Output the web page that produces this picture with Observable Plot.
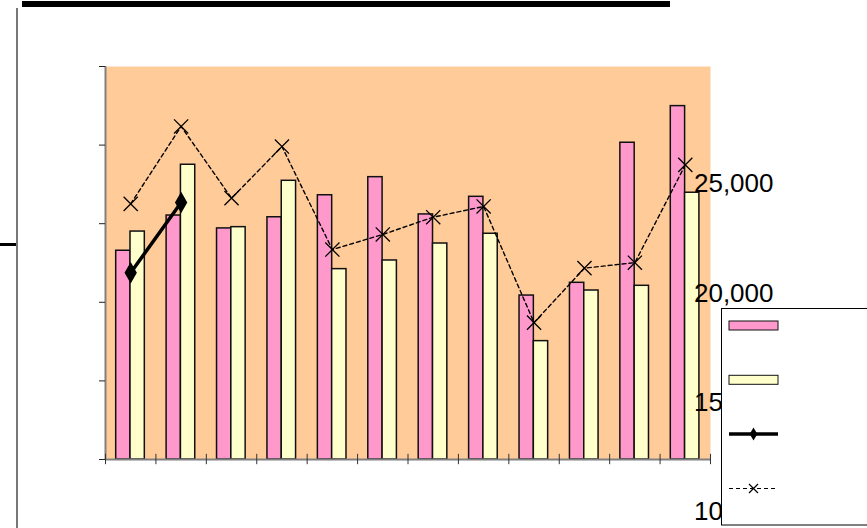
<!DOCTYPE html>
<html><head><meta charset="utf-8">
<script src="https://cdn.jsdelivr.net/npm/d3@7"></script>
<script src="https://cdn.jsdelivr.net/npm/@observablehq/plot@0.6"></script>
<style>
body{margin:0;background:#fff;}
#wrap{position:relative;width:867px;height:528px;overflow:hidden;font-family:"Liberation Sans",Arial,sans-serif;}
.deco{position:absolute;}
</style></head><body>
<div id="wrap">
  <div class="deco" style="left:22px;top:1px;width:648px;height:6px;background:#000"></div>
  <div class="deco" style="left:16px;top:8px;width:1.5px;height:520px;background:#777"></div>
  <div class="deco" style="left:0;top:242.5px;width:16px;height:3.5px;background:#000"></div>
</div>
<script>
// ---- data ----
const categories = ["1","2","3","4","5","6","7","8","9","10","11","12"];
const seriesPink   = [13280, 15520, 14700, 15410, 16810, 17960, 15590, 16710, 10430, 11240, 20150, 22480];
const seriesYellow = [14500, 18750, 14780, 17730, 12110, 12660, 13740, 14360, 7530, 10750, 11050, 16970];
// secondary-axis series
const seriesSolid  = [20940, 24150, null, null, null, null, null, null, null, null, null, null];
const seriesDashed = [24090, 27630, 24350, 26710, 22000, 22690, 23480, 23970, 18660, 21150, 21400, 25870];
const leftTicks  = [0, 5000, 10000, 15000, 20000, 25000];
const rightTicks = [10000, 15000, 20000, 25000];
const primaryDomain = [0, 25000];
const secondaryDomain = [12400, 30370];

// ---- chart ----
const W = 867, H = 528;
const mL = 105, mR = 157, mT = 66, mB = 69;
const bw = (W - mL - mR) / categories.length;
const sec = d3.scaleLinear().domain(secondaryDomain).range(primaryDomain);
const rows = categories.map((c, i) => ({c, a: seriesPink[i], b: seriesYellow[i], k: seriesSolid[i], d: seriesDashed[i]}));
const ys = v => v == null ? NaN : sec(v);

const chart = Plot.plot({
  width: W, height: H,
  marginLeft: mL, marginRight: mR, marginTop: mT, marginBottom: mB,
  x: {type: "band", domain: categories, padding: 0, round: false, axis: null},
  y: {domain: primaryDomain, axis: null, label: null},
  style: {background: "transparent", overflow: "visible", fontFamily: "'Liberation Sans', Arial, sans-serif"},
  marks: [
    Plot.frame({fill: "#FFCC99", stroke: null}),
    Plot.frame({stroke: "#FFE8D2", strokeDasharray: "2,4"}),
    Plot.barY(rows, {x: "c", y: "a", fill: "#FF99CC", stroke: "#111", strokeWidth: 1.5, insetLeft: 10.7, insetRight: 25.4}),
    Plot.barY(rows, {x: "c", y: "b", fill: "#FFFFCC", stroke: "#111", strokeWidth: 1.5, insetLeft: 25, insetRight: 11.1}),
    Plot.ruleY([0], {stroke: "#808080", strokeWidth: 2}),
    Plot.ruleX([categories[0]], {x: d => d, dx: -bw / 2, y1: primaryDomain[0], y2: primaryDomain[1], stroke: "#808080", strokeWidth: 2}),
    Plot.axisY(leftTicks, {tickSize: 6, tickFormat: () => "", stroke: "#222", label: null}),
    Plot.ruleX(categories, {x: d => d, dx: -bw / 2, y1: -330, y2: 330, stroke: "#333"}),
    Plot.ruleX([categories[categories.length - 1]], {x: d => d, dx: bw / 2, y1: -330, y2: 330, stroke: "#333"}),
    Plot.line(rows, {x: "c", y: d => ys(d.d), stroke: "#000", strokeWidth: 1.4, strokeDasharray: "4,3"}),
    Plot.dot(rows, {x: "c", y: d => ys(d.d), symbol: "times", r: 6.5, stroke: "#000", strokeWidth: 1.3}),
    Plot.line(rows, {x: "c", y: d => ys(d.k), stroke: "#000", strokeWidth: 3.5}),
    Plot.dot(rows.filter(d => d.k != null), {x: "c", y: d => ys(d.k), symbol: "diamond", r: 6.5, fill: "#000", stroke: null}),
    Plot.text(rightTicks, {y: d => sec(d), text: d => d3.format(",")(d), frameAnchor: "right", textAnchor: "end", dx: 63, fontSize: 26, fill: "#000"})
  ]
});
chart.style.position = "absolute";
chart.style.left = "0px";
chart.style.top = "0px";
document.getElementById("wrap").appendChild(chart);

// ---- legend (drawn over the right axis labels, as in the reference) ----
const svg = d3.select(chart);
const lg = svg.append("g");
lg.append("rect").attr("x", 721.5).attr("y", 308.5).attr("width", 160).attr("height", 216.5)
  .attr("fill", "#fff").attr("stroke", "#000").attr("stroke-width", 1);
const sx0 = 729, sx1 = 778, sxm = (sx0 + sx1) / 2;
lg.append("rect").attr("x", sx0).attr("y", 321).attr("width", sx1 - sx0).attr("height", 9)
  .attr("fill", "#FF99CC").attr("stroke", "#111").attr("stroke-width", 1);
lg.append("rect").attr("x", sx0).attr("y", 375.3).attr("width", sx1 - sx0).attr("height", 9)
  .attr("fill", "#FFFFCC").attr("stroke", "#111").attr("stroke-width", 1);
lg.append("line").attr("x1", sx0).attr("x2", sx1).attr("y1", 434).attr("y2", 434)
  .attr("stroke", "#000").attr("stroke-width", 3.5);
lg.append("path").attr("d", d3.symbol(d3.symbolDiamond, 50)()).attr("transform", `translate(${sxm},434)`).attr("fill", "#000");
lg.append("line").attr("x1", sx0).attr("x2", sx1).attr("y1", 488.5).attr("y2", 488.5)
  .attr("stroke", "#000").attr("stroke-width", 1.2).attr("stroke-dasharray", "4,3");
lg.append("path").attr("d", "M-4.5,-4.5L4.5,4.5M-4.5,4.5L4.5,-4.5").attr("transform", `translate(${sxm},488.5)`)
  .attr("stroke", "#000").attr("stroke-width", 1.2).attr("fill", "none");
</script>
</body></html>
